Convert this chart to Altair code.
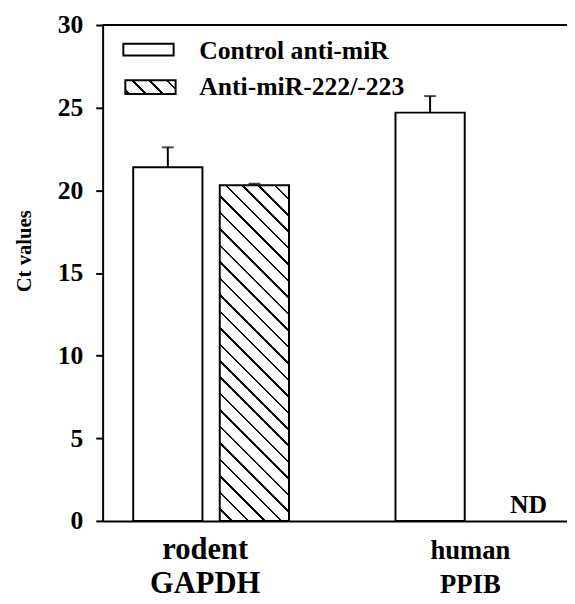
import math
import altair as alt
import pandas as pd

# ---- data ----
groups = ["rodent GAPDH", "human PPIB"]
treatments = ["Control anti-miR", "Anti-miR-222/-223"]
ct_control = [21.4, 24.7]
ct_anti = [20.3, None]          # human PPIB: not detected
err_control = [1.2, 1.0]
err_anti = [0.1, None]
nd_label = "ND"
y_ticks = [0, 5, 10, 15, 20, 25, 30]
y_title = "Ct values"

rows = []
for i, g in enumerate(groups):
    rows.append(dict(group=g, treatment=treatments[0], ct=ct_control[i], err=err_control[i]))
    rows.append(dict(group=g, treatment=treatments[1], ct=ct_anti[i], err=err_anti[i]))
df = pd.DataFrame(rows)
df["upper"] = df["ct"] + df["err"]
legend_df = pd.DataFrame({"treatment": treatments})

# ---- layout ----
W, H = 471, 503
YMAX = 30
FONT = "Liberation Serif"
PI_OUT, PI_IN, ALIGN = 0.0883, 0.406, 0.66
OFF_PI = 0.2


def hatch(w, h, period, phase, half=1.3):
    """Diagonal '\\' hatch as a hard-stop linear gradient (bbox units)."""
    L = w + h
    s = L / (w * w + h * h)
    stops = [{"offset": 0, "color": "white"}]
    k = math.floor((-h - phase) / period) - 1
    while True:
        c = phase + k * period
        k += 1
        if c - half > w:
            break
        if c + half < -h:
            continue
        t0 = max(0.0, (c - half + h) / L)
        t1 = min(1.0, (c + half + h) / L)
        t0, t1 = round(t0, 5), round(t1, 5)
        stops += [{"offset": t0, "color": "white"}, {"offset": t0, "color": "black"},
                  {"offset": t1, "color": "black"}, {"offset": t1, "color": "white"}]
    stops.append({"offset": 1, "color": "white"})
    return {"gradient": "linear", "x1": 0, "y1": 1, "x2": round(w * s, 5),
            "y2": round(1 - h * s, 5), "stops": stops}


# bar pixel size for the hatched bar (styling only)
step = W / (2 - PI_IN + 2 * PI_OUT)
band = step * (1 - PI_IN)
sub_w = band / (2 - OFF_PI) * (1 - OFF_PI)
hatch_bar = hatch(sub_w, ct_anti[0] / YMAX * H, 16.7, 6.0)
hatch_leg = hatch(51, 14, 17.5, 7.0)

is_first = f"datum.value == '{groups[0]}'"
x_enc = alt.X(
    "group:N", sort=groups, title=None,
    scale=alt.Scale(domain=groups, paddingInner=PI_IN, paddingOuter=PI_OUT, align=ALIGN),
    axis=alt.Axis(
        labelExpr="split(datum.label, ' ')", labelAngle=0,
        labelFont=FONT, labelFontWeight="bold", labelColor="black",
        labelFontSize={"condition": {"test": is_first, "value": 31}, "value": 27},
        labelOffset={"condition": {"test": is_first, "value": -6}, "value": -3},
        labelLineHeight=35, labelBaseline="alphabetic", labelPadding=38,
        ticks=False, tickSize=0,
        domainColor="black", domainWidth=2,
    ),
)
xoff = alt.XOffset("treatment:N", scale=alt.Scale(domain=treatments, paddingInner=OFF_PI, paddingOuter=0))
y_enc = alt.Y(
    "ct:Q", title=y_title,
    scale=alt.Scale(domain=[0, YMAX], nice=False),
    axis=alt.Axis(
        values=y_ticks, grid=False, tickSize=7, tickWidth=2, tickColor="black",
        labelFont=FONT, labelFontWeight="bold", labelFontSize=26, labelColor="black",
        labelPadding=13, domainColor="black", domainWidth=2,
        titleFont=FONT, titleFontWeight="bold", titleFontSize=21, titleColor="black",
        titleAngle=270, titleAlign="center", titleBaseline="middle",
        titleX=-79, titleY=229,
    ),
)

base = alt.Chart(df).encode(x=x_enc, xOffset=xoff)

ctrl = base.transform_filter(f"datum.treatment == '{treatments[0]}'").mark_bar(
    fill="white", stroke="black", strokeWidth=2).encode(y=y_enc)
anti = base.transform_filter(f"datum.treatment == '{treatments[1]}' && isValid(datum.ct)").mark_bar(
    fill=hatch_bar, stroke="black", strokeWidth=2).encode(y=y_enc)
err = base.transform_filter("isValid(datum.ct)").mark_rule(color="black", strokeWidth=2).encode(
    y=y_enc, y2="upper:Q")
cap = base.transform_filter("isValid(datum.ct)").mark_tick(
    orient="horizontal", size=12, thickness=2, color="black").encode(y=alt.Y("upper:Q", title=y_title))
nd = base.transform_filter("!isValid(datum.ct)").mark_text(
    text=nd_label, font=FONT, fontWeight="bold", fontSize=26, color="black",
    baseline="alphabetic", dx=12, dy=-8).encode(y=alt.datum(0))

top = alt.Chart(pd.DataFrame({"a": [0]})).mark_rule(color="black", strokeWidth=2).encode(
    x=alt.value(0), x2=alt.value(W), y=alt.value(0))

leg_c = alt.Chart(legend_df).transform_filter(f"datum.treatment == '{treatments[0]}'")
leg_a = alt.Chart(legend_df).transform_filter(f"datum.treatment == '{treatments[1]}'")
leg_rect_c = leg_c.mark_rect(fill="white", stroke="black", strokeWidth=2).encode(
    x=alt.value(21), x2=alt.value(72), y=alt.value(19), y2=alt.value(31))
leg_rect_a = leg_a.mark_rect(fill=hatch_leg, stroke="black", strokeWidth=2).encode(
    x=alt.value(23), x2=alt.value(74), y=alt.value(56), y2=alt.value(70))
leg_txt_c = leg_c.mark_text(align="left", baseline="alphabetic", font=FONT, fontWeight="bold",
                            fontSize=26, color="black").encode(
    x=alt.value(98), y=alt.value(34), text="treatment:N")
leg_txt_a = leg_a.mark_text(align="left", baseline="alphabetic", font=FONT, fontWeight="bold",
                            fontSize=26, color="black").encode(
    x=alt.value(98), y=alt.value(71), text="treatment:N")

chart = alt.layer(
    ctrl, anti, err, cap, nd, top, leg_rect_c, leg_rect_a, leg_txt_c, leg_txt_a
).properties(
    width=W, height=H,
    padding={"left": 96, "top": 13, "right": 0, "bottom": 78},
    autosize=alt.AutoSizeParams(type="none"),
    background="white",
).configure_view(stroke=None)

chart.save("out.html", embed_options={"renderer": "svg", "actions": False})
